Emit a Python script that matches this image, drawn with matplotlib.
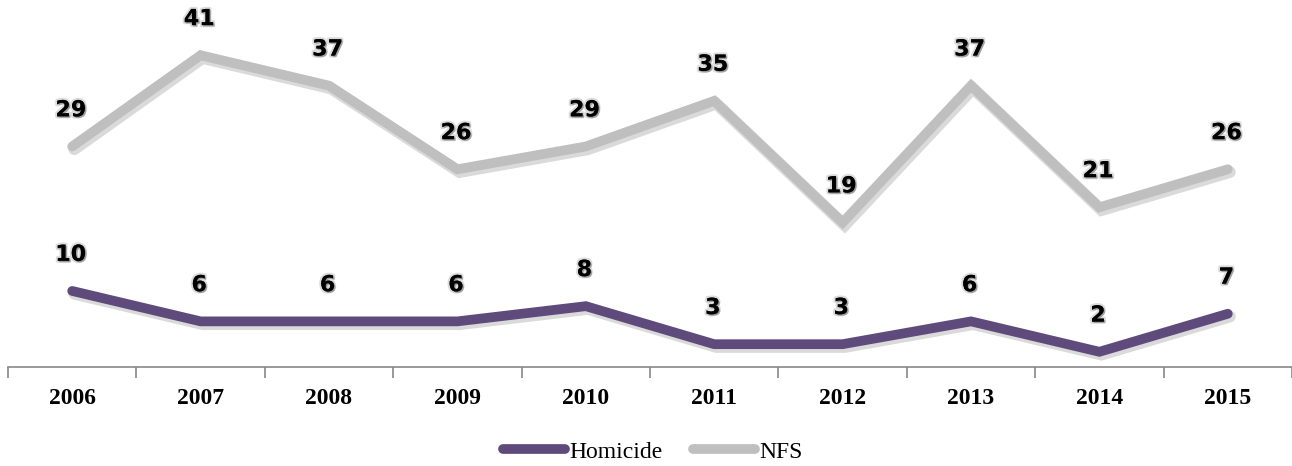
import matplotlib.pyplot as plt
import matplotlib.patheffects as pe

years = ['2006', '2007', '2008', '2009', '2010', '2011', '2012', '2013', '2014', '2015']
homicide = [10, 6, 6, 6, 8, 3, 3, 6, 2, 7]
nfs = [29, 41, 37, 26, 29, 35, 19, 37, 21, 26]

purple = '#5e4b7c'
grey = '#bfbfbf'

fig = plt.figure(figsize=(12.92, 4.66), dpi=100)
ax = fig.add_axes([8 / 1292, 99 / 466, 1284 / 1292, 365 / 466])

x = list(range(len(years)))
shadow = [pe.SimpleLineShadow(offset=(1.5, -2), alpha=0.18, shadow_color='#333333', linewidth=8.5),
          pe.Normal()]
ax.plot(x, homicide, color=purple, lw=7, solid_capstyle='round', solid_joinstyle='miter',
        label='Homicide', path_effects=shadow)
ax.plot(x, nfs, color=grey, lw=7, solid_capstyle='round', solid_joinstyle='miter',
        label='NFS', path_effects=shadow)

txt_fx = [pe.withStroke(linewidth=3, foreground='#dcdcdc'),
          pe.SimplePatchShadow(offset=(1, -1), shadow_rgbFace='#777777', alpha=0.6),
          pe.Normal()]
for series in (homicide, nfs):
    for xi, v in zip(x, series):
        ax.annotate(str(v), (xi, v), xytext=(-1, 26), textcoords='offset points', ha='center',
                    va='center', fontsize=16, fontweight='bold', family='DejaVu Sans',
                    path_effects=txt_fx)

ax.set_xlim(-0.5, len(years) - 0.5)
ax.set_ylim(0, 48)
for s in ['top', 'right', 'left']:
    ax.spines[s].set_visible(False)
ax.spines['bottom'].set_color('#888888')
ax.spines['bottom'].set_linewidth(1.2)
ax.set_yticks([])
ax.set_xticks([i - 0.5 for i in range(len(years) + 1)], minor=False)
ax.set_xticklabels([])
ax.tick_params(axis='x', which='major', length=8, color='#888888', width=1.2, direction='out')
ax.set_xticks(x, minor=True)
ax.set_xticklabels(years, minor=True, fontsize=17, fontweight='bold', family='Liberation Serif')
ax.tick_params(axis='x', which='minor', length=0, pad=15)

leg = fig.legend(loc='center', bbox_to_anchor=(653 / 1292, 1 - 452 / 466), ncol=2, frameon=False,
                 prop={'family': 'Liberation Serif', 'size': 17}, handlelength=2.6,
                 handletextpad=0.2, columnspacing=1.3)
for h in leg.legend_handles:
    h.set_path_effects([])

fig.savefig('out.png', dpi=100)
